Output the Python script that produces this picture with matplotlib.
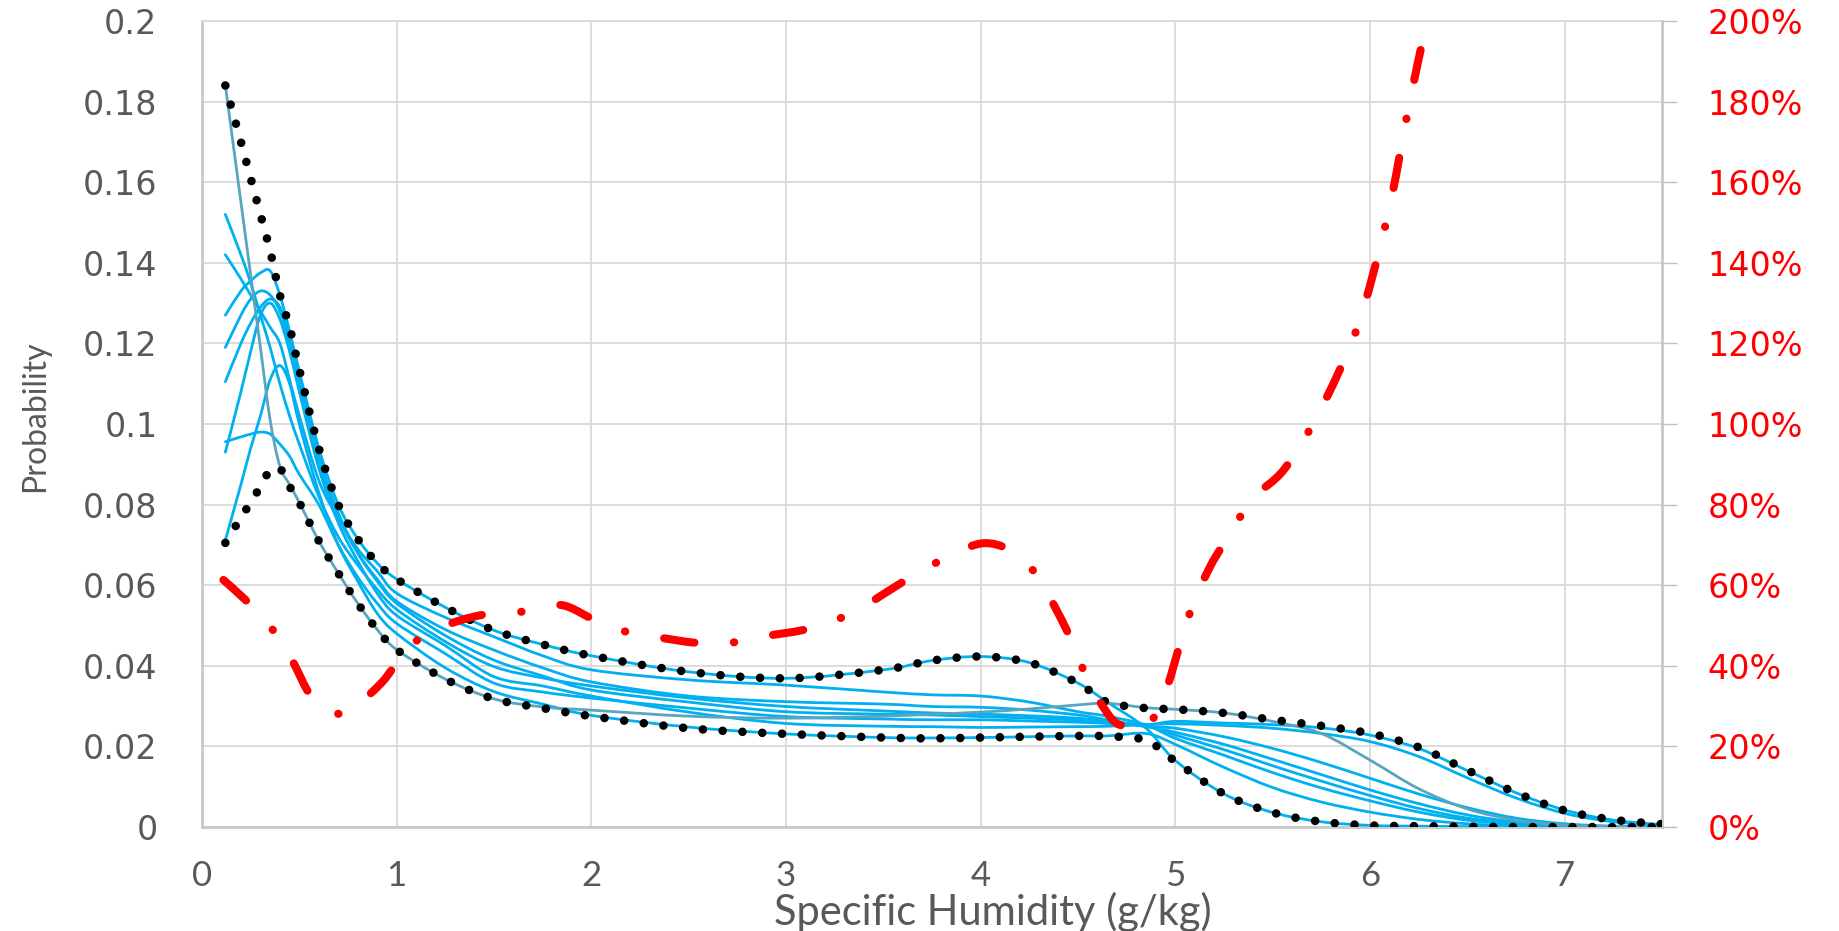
import matplotlib
matplotlib.use("Agg")
import matplotlib.pyplot as plt
from matplotlib.ticker import FixedLocator, FixedFormatter
from matplotlib.path import Path
from matplotlib.patches import PathPatch

# ---------------- data ----------------
x = [0.12, 0.2, 0.25, 0.3, 0.35, 0.4, 0.45, 0.5, 0.6, 0.7, 0.8, 0.9, 1.0, 1.25, 1.5, 1.75,
     2.0, 2.5, 3.0, 3.5, 3.75, 4.0, 4.25, 4.5, 4.65, 4.85, 5.0, 5.25, 5.5, 5.75, 6.0, 6.25,
     6.5, 6.75, 7.0, 7.25, 7.5]

line_h = [0.127, 0.133, 0.1355, 0.1375, 0.138, 0.132, 0.123, 0.113, 0.094, 0.080, 0.0715, 0.0655,
          0.0615, 0.0545, 0.0488, 0.0453, 0.0425, 0.0385, 0.0369, 0.039, 0.0413, 0.0423, 0.0408,
          0.0357, 0.031, 0.0245, 0.0165, 0.0082, 0.0036, 0.0013, 0.0004, 0.0002, 0.0001, 0.0, 0.0,
          0.0, 0.0]
line_b1 = [0.152, 0.142, 0.135, 0.127, 0.119, 0.110, 0.102, 0.095, 0.082, 0.072, 0.065, 0.059,
           0.054, 0.046, 0.0398, 0.037, 0.035, 0.032, 0.0299, 0.0288, 0.0283, 0.028, 0.0276,
           0.027, 0.0262, 0.0249, 0.0235, 0.0205, 0.0168, 0.013, 0.0092, 0.0058, 0.003, 0.0012,
           0.0004, 0.0001, 0.0]
line_b2 = [0.142, 0.136, 0.132, 0.128, 0.124, 0.120, 0.111, 0.102, 0.086, 0.0765, 0.069, 0.0635,
           0.058, 0.052, 0.0472, 0.0425, 0.039, 0.0365, 0.0352, 0.0335, 0.0328, 0.0325, 0.031,
           0.0286, 0.0275, 0.0253, 0.022, 0.0178, 0.0135, 0.0097, 0.0065, 0.0037, 0.0017, 0.0007,
           0.0002, 0.0, 0.0]
line_b3 = [0.119, 0.127, 0.131, 0.133, 0.132, 0.128, 0.120, 0.110, 0.090, 0.077, 0.068, 0.0615,
           0.056, 0.049, 0.0439, 0.0395, 0.036, 0.0325, 0.0311, 0.0305, 0.0299, 0.0297, 0.029,
           0.0278, 0.0266, 0.025, 0.0245, 0.0224, 0.0195, 0.016, 0.0121, 0.0082, 0.0048, 0.0022,
           0.0008, 0.0002, 0.0]
line_b4 = [0.1105, 0.120, 0.125, 0.129, 0.131, 0.129, 0.122, 0.112, 0.092, 0.078, 0.068, 0.061,
           0.0555, 0.0475, 0.0414, 0.0375, 0.034, 0.031, 0.0286, 0.028, 0.0278, 0.0274, 0.027,
           0.0265, 0.026, 0.0254, 0.0262, 0.0258, 0.0254, 0.0246, 0.0228, 0.0195, 0.014, 0.0085,
           0.0042, 0.0017, 0.0006]
line_b5 = [0.0956, 0.0968, 0.0975, 0.098, 0.0975, 0.095, 0.092, 0.0875, 0.080, 0.070, 0.062, 0.0555,
           0.0505, 0.043, 0.0357, 0.0335, 0.032, 0.0295, 0.0274, 0.0268, 0.0266, 0.0266, 0.0263,
           0.026, 0.0257, 0.0251, 0.0228, 0.0192, 0.0152, 0.0114, 0.0078, 0.0046, 0.0022, 0.0009,
           0.0003, 0.0001, 0.0]
line_b7 = [0.093, 0.108, 0.118, 0.127, 0.130, 0.126, 0.118, 0.108, 0.089, 0.0755, 0.066, 0.058,
           0.0525, 0.045, 0.0373, 0.035, 0.0325, 0.0285, 0.0257, 0.025, 0.0249, 0.0247, 0.0248,
           0.0249, 0.025, 0.0254, 0.0256, 0.0252, 0.0245, 0.0232, 0.0212, 0.0175, 0.0122, 0.0072,
           0.0034, 0.0013, 0.0004]
line_f = [0.0712, 0.085, 0.094, 0.102, 0.111, 0.1145, 0.110, 0.100, 0.083, 0.070, 0.061, 0.053,
          0.048, 0.0395, 0.0336, 0.0305, 0.0277, 0.0248, 0.0231, 0.0222, 0.0221, 0.0222, 0.0224,
          0.0226, 0.0226, 0.0232, 0.0205, 0.0148, 0.0098, 0.0062, 0.0037, 0.0019, 0.0008, 0.0003,
          0.0001, 0.0, 0.0]
line_teal = [0.184, 0.155, 0.137, 0.119, 0.101, 0.0895, 0.085, 0.0805, 0.071, 0.063, 0.0555, 0.049,
             0.044, 0.0367, 0.0318, 0.0298, 0.029, 0.0275, 0.027, 0.0275, 0.028, 0.0285, 0.0293,
             0.0303, 0.0307, 0.0296, 0.0292, 0.0283, 0.0262, 0.0232, 0.0166, 0.0095, 0.0045, 0.0017,
             0.0005, 0.0001, 0.0]

upper_env = [0.184, 0.170, 0.161, 0.152, 0.143, 0.132, 0.124, 0.1135, 0.094, 0.080, 0.0715, 0.0655,
             0.0615, 0.0545, 0.0488, 0.0453, 0.0425, 0.0385, 0.0369, 0.039, 0.0413, 0.0423, 0.0408,
             0.0357, 0.031, 0.0295, 0.0292, 0.0283, 0.0266, 0.0251, 0.0232, 0.0198, 0.0141, 0.0085,
             0.0041, 0.0018, 0.0007]
lower_env = [0.0705, 0.0768, 0.0805, 0.0845, 0.0885, 0.089, 0.0845, 0.0805, 0.071, 0.063, 0.0555,
             0.049, 0.044, 0.0367, 0.0318, 0.0295, 0.0275, 0.0245, 0.0231, 0.0222, 0.022, 0.0222,
             0.0224, 0.0226, 0.0225, 0.0215, 0.0163, 0.0082, 0.0036, 0.0013, 0.0004, 0.0002, 0.0001,
             0.0, 0.0, 0.0, 0.0]

red_x = [0.11, 0.22, 0.33, 0.43, 0.48, 0.55, 0.62, 0.68, 0.75, 0.81, 0.93, 1.03, 1.12, 1.29, 1.48,
         1.64, 1.84, 2.0, 2.16, 2.34, 2.54, 2.71, 2.9, 3.09, 3.25, 3.41, 3.56, 3.69, 3.85, 4.01,
         4.15, 4.28, 4.39, 4.48, 4.55, 4.67, 4.75, 4.83, 4.9, 4.96, 5.02, 5.08, 5.17, 5.27, 5.40,
         5.56, 5.74, 5.92, 6.02, 6.11, 6.2, 6.27]
red_pct = [61.3, 56.5, 51, 44.3, 39.8, 33.2, 30, 28.2, 28.5, 30.7, 36.2, 42.7, 46.8, 50.7, 53,
           53.4, 55.1, 51.8, 48.7, 47.1, 45.7, 45.7, 47.4, 48.9, 51.2, 55.1, 59.6, 63.4, 67.5, 70.4,
           68.7, 63, 53.8, 44.9, 36.5, 27, 24.8, 24, 28, 35, 44.7, 53.8, 63.8, 72, 81.6,
           88.8, 103, 122, 138, 156, 179, 195]

x_ticks = [0, 1, 2, 3, 4, 5, 6, 7]
y_ticks = [0, 0.02, 0.04, 0.06, 0.08, 0.1, 0.12, 0.14, 0.16, 0.18, 0.2]
y_tick_labels = ["0", "0.02", "0.04", "0.06", "0.08", "0.1", "0.12", "0.14", "0.16", "0.18", "0.2"]
r_ticks = [0, 20, 40, 60, 80, 100, 120, 140, 160, 180, 200]
r_tick_labels = ["0%", "20%", "40%", "60%", "80%", "100%", "120%", "140%", "160%", "180%", "200%"]

x_title = "Specific Humidity (g/kg)"
y_title = "Probability"


def smooth_path(xs, ys):
    """Excel-style smoothed line: cubic Bezier segments through the data points."""
    n = len(xs)
    verts = [(xs[0], ys[0])]
    codes = [Path.MOVETO]
    for i in range(n - 1):
        x0, y0 = (xs[i - 1], ys[i - 1]) if i > 0 else (xs[i], ys[i])
        x1, y1 = xs[i], ys[i]
        x2, y2 = xs[i + 1], ys[i + 1]
        x3, y3 = (xs[i + 2], ys[i + 2]) if i + 2 < n else (x2, y2)
        c1 = (x1 + (x2 - x0) / 6.0, y1 + (y2 - y0) / 6.0)
        c2 = (x2 - (x3 - x1) / 6.0, y2 - (y3 - y1) / 6.0)
        verts += [c1, c2, (x2, y2)]
        codes += [Path.CURVE4] * 3
    return Path(verts, codes)


def add_curve(axis, xs, ys, **kw):
    p = PathPatch(smooth_path(xs, ys), fill=False, **kw)
    axis.add_patch(p)
    return p


# ---------------- figure ----------------
fig = plt.figure(figsize=(18.4, 9.31), dpi=100)
ax = fig.add_axes([202 / 1840, 1 - 827 / 931, 1460 / 1840, 806 / 931])

blue = "#00B0F0"
teal = "#5AA5BE"
grid_c = "#D9D9D9"
txt_c = "#595959"

for s in [line_b1, line_b2, line_b3, line_b4, line_b5, line_b7, line_f, line_h]:
    add_curve(ax, x, s, edgecolor=blue, lw=2.0, joinstyle="round", capstyle="round", zorder=3)
add_curve(ax, x, line_teal, edgecolor=teal, lw=2.0, joinstyle="round", capstyle="round", zorder=3)

for env in [upper_env, lower_env]:
    add_curve(ax, x, env, edgecolor="black", lw=6.2, linestyle=(0, (0.001, 2.3)),
              capstyle="round", zorder=4)

ax.set_xlim(0, 7.5)
ax.set_ylim(0, 0.2)
ax.xaxis.set_major_locator(FixedLocator(x_ticks))
ax.yaxis.set_major_locator(FixedLocator(y_ticks))
ax.yaxis.set_major_formatter(FixedFormatter(y_tick_labels))
ax.grid(True, color=grid_c, lw=1.3, zorder=0)
ax.set_axisbelow(True)
ax.tick_params(axis="both", length=0)
ax.tick_params(axis="y", pad=32, labelsize=24, labelcolor=txt_c)
ax.tick_params(axis="x", pad=24, labelcolor=txt_c)
for lab in ax.get_xticklabels():
    lab.set_fontfamily("Lato")
    lab.set_fontsize(25)
for sp in ["left", "bottom"]:
    ax.spines[sp].set_color("#C8C8C8")
    ax.spines[sp].set_linewidth(2.0)
ax.spines["top"].set_color(grid_c)
ax.spines["top"].set_linewidth(1.3)
ax.spines["right"].set_color("#C8C8C8")
ax.spines["right"].set_linewidth(2.0)

ax.set_xlabel(x_title, fontfamily="Lato", fontsize=30, color=txt_c)
ax.xaxis.set_label_coords((993 - 202) / 1460, (827 - 912) / 806)
ax.xaxis.label.set_va("center")
ax.set_ylabel(y_title, fontfamily="Lato", fontsize=23, color=txt_c)
ax.yaxis.set_label_coords((35 - 202) / 1460, 0.51)
ax.yaxis.label.set_va("center")

ax2 = ax.twinx()
add_curve(ax2, red_x, red_pct, edgecolor="#FF0000", lw=5.8,
          linestyle=(0, (3.8, 4.9, 0.05, 4.9)), capstyle="round", zorder=5)
ax2.set_ylim(0, 200)
ax2.set_xlim(0, 7.5)
ax2.yaxis.set_major_locator(FixedLocator(r_ticks))
ax2.yaxis.set_major_formatter(FixedFormatter(r_tick_labels))
ax2.tick_params(axis="y", length=11, width=1.0, color="#BFBFBF", pad=22,
                labelsize=24, labelcolor="#FF0000", direction="out")
for sp in ax2.spines.values():
    sp.set_visible(False)

fig.savefig("out.png", dpi=100)
